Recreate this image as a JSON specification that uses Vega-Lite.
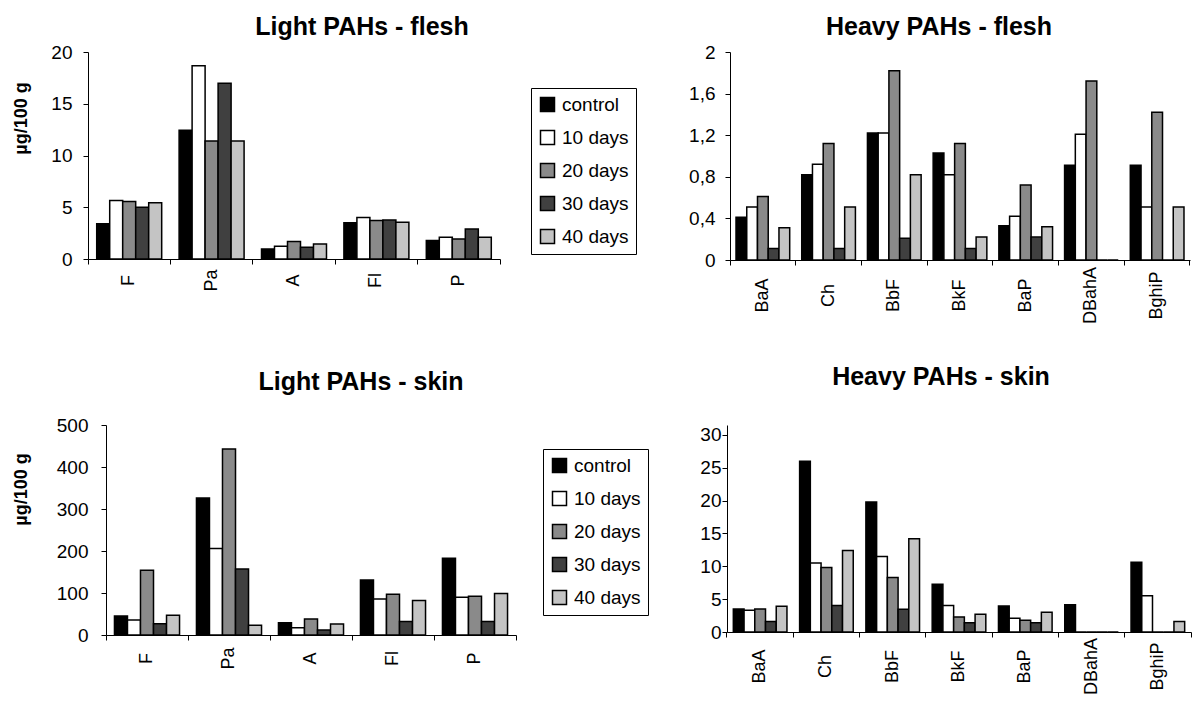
{
  "$schema": "https://vega.github.io/schema/vega-lite/v6.json",
  "padding": {"left": 12, "top": 15, "right": 0, "bottom": 0},
  "background": "white",
  "datasets": {
    "lf": [
      {"compound": "F", "period": "control", "value": 3.4},
      {"compound": "F", "period": "10 days", "value": 5.66},
      {"compound": "F", "period": "20 days", "value": 5.56},
      {"compound": "F", "period": "30 days", "value": 5.0},
      {"compound": "F", "period": "40 days", "value": 5.43},
      {"compound": "Pa", "period": "control", "value": 12.45},
      {"compound": "Pa", "period": "10 days", "value": 18.67},
      {"compound": "Pa", "period": "20 days", "value": 11.39},
      {"compound": "Pa", "period": "30 days", "value": 16.98},
      {"compound": "Pa", "period": "40 days", "value": 11.39},
      {"compound": "A", "period": "control", "value": 0.97},
      {"compound": "A", "period": "10 days", "value": 1.22},
      {"compound": "A", "period": "20 days", "value": 1.68},
      {"compound": "A", "period": "30 days", "value": 1.13},
      {"compound": "A", "period": "40 days", "value": 1.46},
      {"compound": "Fl", "period": "control", "value": 3.5},
      {"compound": "Fl", "period": "10 days", "value": 4.0},
      {"compound": "Fl", "period": "20 days", "value": 3.72},
      {"compound": "Fl", "period": "30 days", "value": 3.76},
      {"compound": "Fl", "period": "40 days", "value": 3.55},
      {"compound": "P", "period": "control", "value": 1.78},
      {"compound": "P", "period": "10 days", "value": 2.1},
      {"compound": "P", "period": "20 days", "value": 1.94},
      {"compound": "P", "period": "30 days", "value": 2.9},
      {"compound": "P", "period": "40 days", "value": 2.1}
    ],
    "hf": [
      {"compound": "BaA", "period": "control", "value": 0.41},
      {"compound": "BaA", "period": "10 days", "value": 0.51},
      {"compound": "BaA", "period": "20 days", "value": 0.61},
      {"compound": "BaA", "period": "30 days", "value": 0.11},
      {"compound": "BaA", "period": "40 days", "value": 0.31},
      {"compound": "Ch", "period": "control", "value": 0.82},
      {"compound": "Ch", "period": "10 days", "value": 0.92},
      {"compound": "Ch", "period": "20 days", "value": 1.12},
      {"compound": "Ch", "period": "30 days", "value": 0.11},
      {"compound": "Ch", "period": "40 days", "value": 0.51},
      {"compound": "BbF", "period": "control", "value": 1.22},
      {"compound": "BbF", "period": "10 days", "value": 1.22},
      {"compound": "BbF", "period": "20 days", "value": 1.82},
      {"compound": "BbF", "period": "30 days", "value": 0.21},
      {"compound": "BbF", "period": "40 days", "value": 0.82},
      {"compound": "BkF", "period": "control", "value": 1.03},
      {"compound": "BkF", "period": "10 days", "value": 0.82},
      {"compound": "BkF", "period": "20 days", "value": 1.12},
      {"compound": "BkF", "period": "30 days", "value": 0.11},
      {"compound": "BkF", "period": "40 days", "value": 0.22},
      {"compound": "BaP", "period": "control", "value": 0.33},
      {"compound": "BaP", "period": "10 days", "value": 0.42},
      {"compound": "BaP", "period": "20 days", "value": 0.72},
      {"compound": "BaP", "period": "30 days", "value": 0.22},
      {"compound": "BaP", "period": "40 days", "value": 0.32},
      {"compound": "DBahA", "period": "control", "value": 0.91},
      {"compound": "DBahA", "period": "10 days", "value": 1.21},
      {"compound": "DBahA", "period": "20 days", "value": 1.72},
      {"compound": "DBahA", "period": "30 days", "value": 0},
      {"compound": "DBahA", "period": "40 days", "value": 0},
      {"compound": "BghiP", "period": "control", "value": 0.91},
      {"compound": "BghiP", "period": "10 days", "value": 0.51},
      {"compound": "BghiP", "period": "20 days", "value": 1.42},
      {"compound": "BghiP", "period": "30 days", "value": 0},
      {"compound": "BghiP", "period": "40 days", "value": 0.51}
    ],
    "ls": [
      {"compound": "F", "period": "control", "value": 45},
      {"compound": "F", "period": "10 days", "value": 36},
      {"compound": "F", "period": "20 days", "value": 154},
      {"compound": "F", "period": "30 days", "value": 27},
      {"compound": "F", "period": "40 days", "value": 47},
      {"compound": "Pa", "period": "control", "value": 326},
      {"compound": "Pa", "period": "10 days", "value": 206},
      {"compound": "Pa", "period": "20 days", "value": 443},
      {"compound": "Pa", "period": "30 days", "value": 157},
      {"compound": "Pa", "period": "40 days", "value": 23},
      {"compound": "A", "period": "control", "value": 29},
      {"compound": "A", "period": "10 days", "value": 17},
      {"compound": "A", "period": "20 days", "value": 38},
      {"compound": "A", "period": "30 days", "value": 12},
      {"compound": "A", "period": "40 days", "value": 26},
      {"compound": "Fl", "period": "control", "value": 131},
      {"compound": "Fl", "period": "10 days", "value": 86},
      {"compound": "Fl", "period": "20 days", "value": 97},
      {"compound": "Fl", "period": "30 days", "value": 32},
      {"compound": "Fl", "period": "40 days", "value": 82},
      {"compound": "P", "period": "control", "value": 183},
      {"compound": "P", "period": "10 days", "value": 90},
      {"compound": "P", "period": "20 days", "value": 92},
      {"compound": "P", "period": "30 days", "value": 32},
      {"compound": "P", "period": "40 days", "value": 99}
    ],
    "hs": [
      {"compound": "BaA", "period": "control", "value": 3.5},
      {"compound": "BaA", "period": "10 days", "value": 3.3},
      {"compound": "BaA", "period": "20 days", "value": 3.5},
      {"compound": "BaA", "period": "30 days", "value": 1.6},
      {"compound": "BaA", "period": "40 days", "value": 3.9},
      {"compound": "Ch", "period": "control", "value": 26.0},
      {"compound": "Ch", "period": "10 days", "value": 10.5},
      {"compound": "Ch", "period": "20 days", "value": 9.8},
      {"compound": "Ch", "period": "30 days", "value": 4.05},
      {"compound": "Ch", "period": "40 days", "value": 12.4},
      {"compound": "BbF", "period": "control", "value": 19.8},
      {"compound": "BbF", "period": "10 days", "value": 11.5},
      {"compound": "BbF", "period": "20 days", "value": 8.3},
      {"compound": "BbF", "period": "30 days", "value": 3.45},
      {"compound": "BbF", "period": "40 days", "value": 14.2},
      {"compound": "BkF", "period": "control", "value": 7.25},
      {"compound": "BkF", "period": "10 days", "value": 4.05},
      {"compound": "BkF", "period": "20 days", "value": 2.3},
      {"compound": "BkF", "period": "30 days", "value": 1.4},
      {"compound": "BkF", "period": "40 days", "value": 2.7},
      {"compound": "BaP", "period": "control", "value": 3.95},
      {"compound": "BaP", "period": "10 days", "value": 2.1},
      {"compound": "BaP", "period": "20 days", "value": 1.8},
      {"compound": "BaP", "period": "30 days", "value": 1.4},
      {"compound": "BaP", "period": "40 days", "value": 3.0},
      {"compound": "DBahA", "period": "control", "value": 4.15},
      {"compound": "DBahA", "period": "10 days", "value": 0},
      {"compound": "DBahA", "period": "20 days", "value": 0},
      {"compound": "DBahA", "period": "30 days", "value": 0},
      {"compound": "DBahA", "period": "40 days", "value": 0},
      {"compound": "BghiP", "period": "control", "value": 10.6},
      {"compound": "BghiP", "period": "10 days", "value": 5.5},
      {"compound": "BghiP", "period": "20 days", "value": 0},
      {"compound": "BghiP", "period": "30 days", "value": 0},
      {"compound": "BghiP", "period": "40 days", "value": 1.6}
    ]
  },
  "config": {
    "font": "Liberation Sans",
    "view": {"stroke": null},
    "axis": {
      "grid": false,
      "domainColor": "black",
      "domainWidth": 1,
      "tickColor": "black",
      "tickWidth": 1,
      "tickSize": 5,
      "labelColor": "black",
      "labelFont": "Liberation Sans",
      "titleColor": "black",
      "titleFont": "Liberation Sans",
      "titleFontSize": 18,
      "titleFontWeight": "bold"
    },
    "title": {"font": "Liberation Sans", "fontSize": 25, "fontWeight": "bold", "color": "black", "frame": "group"},
    "legend": {
      "strokeColor": "black",
      "fillColor": "white",
      "padding": 7,
      "symbolType": "square",
      "symbolSize": 196,
      "symbolStrokeColor": "black",
      "symbolStrokeWidth": 1.5,
      "labelFont": "Liberation Sans",
      "labelFontSize": 19,
      "labelColor": "black",
      "labelOffset": 5,
      "rowPadding": 12
    }
  },
  "resolve": {"scale": {"x": "independent", "y": "independent", "color": "independent", "xOffset": "independent"}, "legend": {"color": "independent"}},
  "spacing": 41,
  "vconcat": [
    {
      "bounds": "flush",
      "spacing": 230,
      "resolve": {"scale": {"x": "independent", "y": "independent", "color": "independent", "xOffset": "independent"}, "legend": {"color": "independent"}},
      "hconcat": [
        {
          "title": {"text": "Light PAHs - flesh", "dx": 68, "offset": 3},
          "width": 412,
          "height": 207,
          "data": {"name": "lf"},
          "mark": {"type": "bar", "stroke": "black", "strokeWidth": 1.5},
          "encoding": {
            "x": {"field": "compound", "type": "nominal", "sort": ["F", "Pa", "A", "Fl", "P"],
              "scale": {"paddingInner": 0, "paddingOuter": 0},
              "axis": {"title": null, "labelAngle": 270, "labelAlign": "center", "labelBaseline": "middle", "labelPadding": 16, "labelFontSize": 18, "bandPosition": 1, "tickExtra": true}},
            "xOffset": {"field": "period", "type": "nominal", "sort": ["control", "10 days", "20 days", "30 days", "40 days"],
              "scale": {"paddingInner": 0, "paddingOuter": 0.67}},
            "y": {"field": "value", "type": "quantitative", "scale": {"domain": [0, 20], "nice": false},
              "axis": {"title": "µg/100 g", "values": [0, 5, 10, 15, 20], "labelFontSize": 19, "labelPadding": 11,
                "titleAngle": 270, "titleBaseline": "bottom", "titleAlign": "center", "titleX": -58, "titleY": 66}},
            "color": {"field": "period", "type": "nominal", "sort": ["control", "10 days", "20 days", "30 days", "40 days"],
              "scale": {"domain": ["control", "10 days", "20 days", "30 days", "40 days"], "range": ["#000000", "#ffffff", "#8a8a8a", "#404040", "#c4c4c4"]},
              "legend": {"title": null, "orient": "none", "legendX": 443, "legendY": 36}}
          }
        },
        {
          "title": {"text": "Heavy PAHs - flesh", "dx": -21, "offset": 3},
          "width": 460,
          "height": 208,
          "data": {"name": "hf"},
          "mark": {"type": "bar", "stroke": "black", "strokeWidth": 1.5},
          "encoding": {
            "x": {"field": "compound", "type": "nominal", "sort": ["BaA", "Ch", "BbF", "BkF", "BaP", "DBahA", "BghiP"],
              "scale": {"paddingInner": 0, "paddingOuter": 0},
              "axis": {"title": null, "labelAngle": 270, "labelAlign": "center", "labelBaseline": "middle", "labelPadding": 30, "labelFontSize": 18, "bandPosition": 1, "tickExtra": true}},
            "xOffset": {"field": "period", "type": "nominal", "sort": ["control", "10 days", "20 days", "30 days", "40 days"],
              "scale": {"paddingInner": 0, "paddingOuter": 0.56}},
            "y": {"field": "value", "type": "quantitative", "scale": {"domain": [0, 2], "nice": false},
              "axis": {"title": null, "values": [0, 0.4, 0.8, 1.2, 1.6, 2], "labelFontSize": 19, "labelPadding": 10,
                "labelExpr": "replace(format(datum.value, '~g'), '.', ',')"}},
            "color": {"field": "period", "type": "nominal", "sort": ["control", "10 days", "20 days", "30 days", "40 days"],
              "scale": {"domain": ["control", "10 days", "20 days", "30 days", "40 days"], "range": ["#000000", "#ffffff", "#8a8a8a", "#404040", "#c4c4c4"]},
              "legend": null}
          }
        }
      ]
    },
    {
      "bounds": "flush",
      "spacing": 211,
      "resolve": {"scale": {"x": "independent", "y": "independent", "color": "independent", "xOffset": "independent"}, "legend": {"color": "independent"}},
      "hconcat": [
        {
          "title": {"text": "Light PAHs - skin", "dx": 59, "offset": 21},
          "width": 428,
          "height": 210,
          "data": {"name": "ls"},
          "mark": {"type": "bar", "stroke": "black", "strokeWidth": 1.5},
          "encoding": {
            "x": {"field": "compound", "type": "nominal", "sort": ["F", "Pa", "A", "Fl", "P"],
              "scale": {"paddingInner": 0, "paddingOuter": 0, "range": [18, 428]},
              "axis": {"title": null, "labelAngle": 270, "labelAlign": "center", "labelBaseline": "middle", "labelPadding": 18, "labelFontSize": 18, "bandPosition": 1, "tickExtra": true}},
            "xOffset": {"field": "period", "type": "nominal", "sort": ["control", "10 days", "20 days", "30 days", "40 days"],
              "scale": {"paddingInner": 0, "paddingOuter": 0.65}},
            "y": {"field": "value", "type": "quantitative", "scale": {"domain": [0, 500], "nice": false},
              "axis": {"title": "µg/100 g", "offset": -18, "values": [0, 100, 200, 300, 400, 500], "labelFontSize": 19, "labelPadding": 13,
                "titleAngle": 270, "titleBaseline": "bottom", "titleAlign": "center", "titleX": -76, "titleY": 64}},
            "color": {"field": "period", "type": "nominal", "sort": ["control", "10 days", "20 days", "30 days", "40 days"],
              "scale": {"domain": ["control", "10 days", "20 days", "30 days", "40 days"], "range": ["#000000", "#ffffff", "#8a8a8a", "#404040", "#c4c4c4"]},
              "legend": {"title": null, "orient": "none", "legendX": 455, "legendY": 24}}
          }
        },
        {
          "title": {"text": "Heavy PAHs - skin", "dx": -18, "offset": 35},
          "width": 464,
          "height": 207,
          "data": {"name": "hs"},
          "mark": {"type": "bar", "stroke": "black", "strokeWidth": 1.5},
          "encoding": {
            "x": {"field": "compound", "type": "nominal", "sort": ["BaA", "Ch", "BbF", "BkF", "BaP", "DBahA", "BghiP"],
              "scale": {"paddingInner": 0, "paddingOuter": 0},
              "axis": {"title": null, "labelAngle": 270, "labelAlign": "center", "labelBaseline": "middle", "labelPadding": 29, "labelFontSize": 18, "bandPosition": 1, "tickExtra": true}},
            "xOffset": {"field": "period", "type": "nominal", "sort": ["control", "10 days", "20 days", "30 days", "40 days"],
              "scale": {"paddingInner": 0, "paddingOuter": 0.59}},
            "y": {"field": "value", "type": "quantitative", "scale": {"domain": [0, 31.5], "nice": false},
              "axis": {"title": null, "values": [0, 5, 10, 15, 20, 25, 30], "labelFontSize": 19, "labelPadding": 1}},
            "color": {"field": "period", "type": "nominal", "sort": ["control", "10 days", "20 days", "30 days", "40 days"],
              "scale": {"domain": ["control", "10 days", "20 days", "30 days", "40 days"], "range": ["#000000", "#ffffff", "#8a8a8a", "#404040", "#c4c4c4"]},
              "legend": null}
          }
        }
      ]
    }
  ]
}
